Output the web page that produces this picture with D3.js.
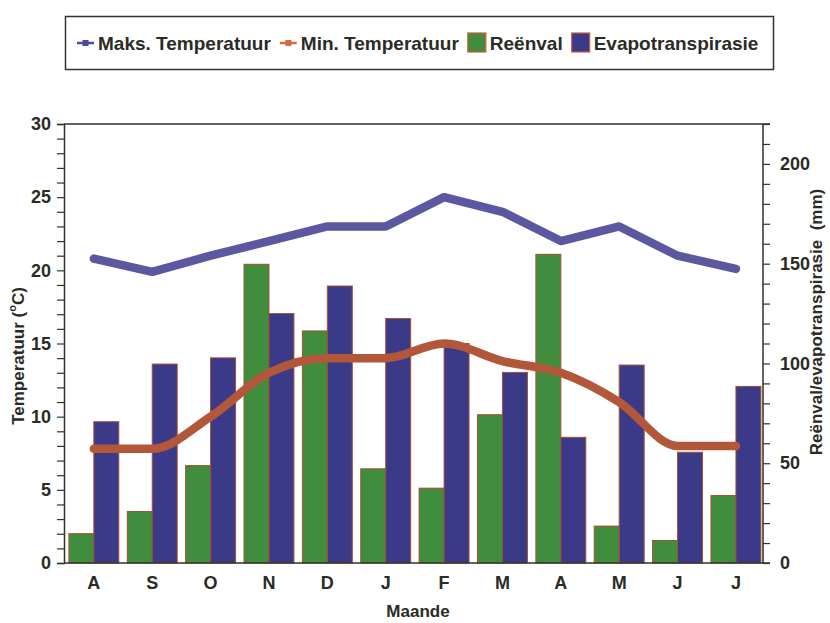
<!DOCTYPE html>
<html>
<head>
<meta charset="utf-8">
<script src="https://cdn.jsdelivr.net/npm/d3@7"></script>
<style>
  html, body { margin: 0; padding: 0; background: #fff; }
  svg text { font-family: "Liberation Sans", Arial, sans-serif; font-weight: bold; fill: #2b2b25; }
</style>
</head>
<body>
<div id="chart"></div>
<script>
const maande = ["A", "S", "O", "N", "D", "J", "F", "M", "A", "M", "J", "J"];
const maksTemp = [20.8, 19.9, 21, 22, 23, 23, 25, 24, 22, 23, 21, 20.1];
const minTemp = [7.8, 7.8, 10, 13, 14, 14, 15, 13.8, 13, 11, 8, 8];
const reenval = [14.7, 25.8, 48.8, 149.7, 116.3, 47.2, 37.5, 74.3, 154.7, 18.5, 11.3, 33.8];
const evapo = [70.8, 99.7, 102.8, 125, 138.8, 122.5, 110, 95.5, 63, 99.2, 55.5, 88.5];
const tempTicks = d3.range(0, 31, 1);
const mmTicks = d3.range(0, 221, 10);

const W = 830, H = 623;
const pLeft = 64, pRight = 763, pTop = 124, pBottom = 563;

const svg = d3.select("#chart").append("svg").attr("width", W).attr("height", H);
svg.append("rect").attr("width", W).attr("height", H).attr("fill", "#fff");

const x = d3.scaleBand().domain(d3.range(maande.length)).range([pLeft, pRight])
  .paddingInner(0.145).paddingOuter(0.06).align(0.7);
const xSub = d3.scaleBand().domain(["reen", "evap"]).range([0, x.bandwidth()]);
const yL = d3.scaleLinear().domain([0, 30]).range([pBottom, pTop]);
const yR = d3.scaleLinear().domain([0, 220]).range([pBottom, pTop]);

const groen = "#3f8d3d", blou = "#3b3a88", rand = "#a4502e";
const maksKleur = "#5b57a0", minKleur = "#b3573a";

// stawe
const g = svg.append("g");
g.selectAll("rect.reen").data(reenval).join("rect").attr("class", "reen")
  .attr("x", (d, i) => x(i) + xSub("reen")).attr("width", xSub.bandwidth())
  .attr("y", d => yR(d)).attr("height", d => yR(0) - yR(d))
  .attr("fill", groen).attr("stroke", rand).attr("stroke-width", 1);
g.selectAll("rect.evap").data(evapo).join("rect").attr("class", "evap")
  .attr("x", (d, i) => x(i) + xSub("evap")).attr("width", xSub.bandwidth())
  .attr("y", d => yR(d)).attr("height", d => yR(0) - yR(d))
  .attr("fill", blou).attr("stroke", rand).attr("stroke-width", 1);

// lyne
const cx = i => x(i) + x.bandwidth() / 2;
const maksLyn = d3.line().x((d, i) => cx(i)).y(d => yL(d));
const minLyn = d3.line().x((d, i) => cx(i)).y(d => yL(d)).curve(d3.curveMonotoneX);
svg.append("path").attr("d", minLyn(minTemp)).attr("fill", "none")
  .attr("stroke", minKleur).attr("stroke-width", 8.5).attr("stroke-linejoin", "round").attr("stroke-linecap", "round");
svg.append("path").attr("d", maksLyn(maksTemp)).attr("fill", "none")
  .attr("stroke", maksKleur).attr("stroke-width", 8.5).attr("stroke-linejoin", "round").attr("stroke-linecap", "round");

// asse
const asKleur = "#2f3328";
const axL = svg.append("g").attr("transform", `translate(${pLeft},0)`)
  .call(d3.axisLeft(yL).tickValues(tempTicks).tickFormat(d => d % 5 === 0 ? d : "").tickSize(7).tickPadding(6));
const axR = svg.append("g").attr("transform", `translate(${pRight},0)`)
  .call(d3.axisRight(yR).tickValues(mmTicks).tickFormat(d => d % 50 === 0 ? d : "").tickSize(7).tickPadding(10));
const axB = svg.append("g").attr("transform", `translate(0,${pBottom})`)
  .call(d3.axisBottom(x).tickSize(0).tickPadding(13).tickFormat(i => maande[i]));
[axL, axR, axB].forEach(a => {
  a.select(".domain").attr("stroke", asKleur).attr("stroke-width", 1.5);
  a.selectAll(".tick line").attr("stroke", asKleur).attr("stroke-width", 1.2);
  a.selectAll("text").attr("font-size", 18).attr("fill", "#2b2b25")
    .attr("font-family", "'Liberation Sans', Arial, sans-serif").attr("font-weight", "bold");
});
axR.select(".domain").attr("d", `M7,${pTop}H0V${pBottom}H7`);
axB.select(".domain").attr("d", `M${pLeft},0H${pRight}`);
svg.append("line").attr("x1", pLeft).attr("x2", pRight).attr("y1", pTop).attr("y2", pTop)
  .attr("stroke", asKleur).attr("stroke-width", 1.5);

// astitels
const tl = svg.append("text").attr("transform", "translate(24,356) rotate(-90)")
  .attr("text-anchor", "middle").attr("font-size", 17);
tl.append("tspan").text("Temperatuur (");
tl.append("tspan").attr("font-size", 11).attr("dy", -8).text("o");
tl.append("tspan").attr("dy", 8).text("C)");
svg.append("text").attr("transform", "translate(822,322) rotate(-90)")
  .attr("text-anchor", "middle").attr("font-size", 17).attr("xml:space", "preserve")
  .text("Reënval/evapotranspirasie  (mm)");
svg.append("text").attr("x", 418).attr("y", 617).attr("text-anchor", "middle")
  .attr("font-size", 17).text("Maande");

// legende
svg.append("rect").attr("x", 65.5).attr("y", 16.5).attr("width", 708).attr("height", 53)
  .attr("fill", "none").attr("stroke", "#333").attr("stroke-width", 1.5);
const items = [
  { naam: "Maks. Temperatuur", tipe: "lyn", kleur: "#4c4a9c" },
  { naam: "Min. Temperatuur", tipe: "lyn", kleur: "#d06a4a" },
  { naam: "Reënval", tipe: "blok", kleur: groen },
  { naam: "Evapotranspirasie", tipe: "blok", kleur: blou }
];
const leg = svg.append("g");
let lx = 77;
const ly = 43;
items.forEach(it => {
  if (it.tipe === "lyn") {
    leg.append("line").attr("x1", lx).attr("x2", lx + 17).attr("y1", ly).attr("y2", ly)
      .attr("stroke", it.kleur).attr("stroke-width", 2.5);
    leg.append("rect").attr("x", lx + 5.5).attr("y", ly - 3).attr("width", 6).attr("height", 6).attr("fill", it.kleur);
    lx += 21;
  } else {
    leg.append("rect").attr("x", lx).attr("y", ly - 10).attr("width", 18).attr("height", 19)
      .attr("fill", it.kleur).attr("stroke", "#d05a3a").attr("stroke-width", 1.2);
    lx += 22;
  }
  const t = leg.append("text").attr("x", lx).attr("y", ly + 6.5).attr("font-size", 19).text(it.naam);
  lx += t.node().getComputedTextLength() + 9;
});
</script>
</body>
</html>
